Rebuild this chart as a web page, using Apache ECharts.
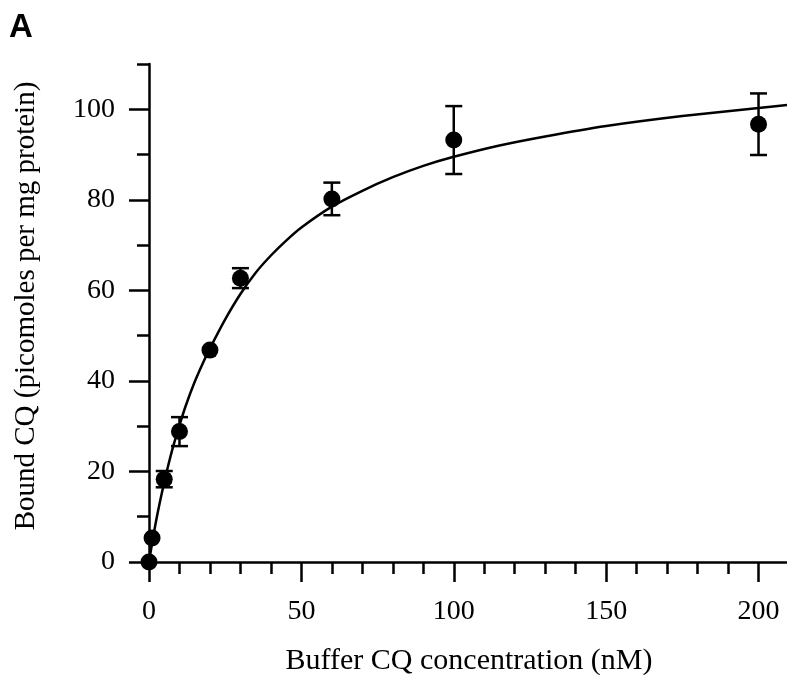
<!DOCTYPE html>
<html>
<head>
<meta charset="utf-8">
<script src="https://cdn.jsdelivr.net/npm/echarts@6/dist/echarts.min.js"></script>
<style>
html,body{margin:0;padding:0;background:#fff;}
#chart{width:787px;height:675px;}
</style>
</head>
<body>
<div id="chart"></div>
<script>
// Measured points (buffer CQ in nM, bound CQ in pmol/mg protein, error half-width)
const pointX = [0, 1, 5, 10, 20, 30, 60, 100, 200];
const pointY = [0, 5.3, 18.3, 28.8, 46.8, 62.7, 80.2, 93.2, 96.7];
const pointErr = [0, 0, 1.8, 3.2, 0, 2.2, 3.6, 7.5, 6.8];

// Fitted curve
const curveX = [0, 1, 2, 3, 4, 5, 6, 8, 10, 12, 15, 18, 20, 25, 30, 35, 40, 45, 50, 60, 70, 80, 90, 100, 115, 130, 150, 175, 200, 210];
const curveY = [0, 4.1, 7.9, 11.4, 14.6, 17.6, 20.5, 25.7, 30.2, 34.4, 39.8, 44.4, 47.2, 53.6, 59.2, 63.9, 67.7, 71, 73.9, 78.5, 82, 85, 87.5, 89.5, 92, 94, 96.3, 98.5, 100.3, 101];

// Tick labels
const xMajorTicks = [0, 50, 100, 150, 200];
const yMajorTicks = [0, 20, 40, 60, 80, 100];

const xTitle = 'Buffer CQ concentration (nM)';
const yTitle = 'Bound CQ (picomoles per mg protein)';
const panelLabel = 'A';

const serif = 'Liberation Serif';
const chart = echarts.init(document.getElementById('chart'));

const points = pointX.map((x, i) => [x, pointY[i]]);
const errData = pointX.map((x, i) => [x, pointY[i], pointErr[i]]);
const curve = curveX.map((x, i) => [x, curveY[i]]);

const LW = 2.5;

const option = {
  backgroundColor: '#fff',
  animation: false,
  title: {
    text: panelLabel, left: 9, top: 11, padding: 0,
    textStyle: { fontFamily: 'Liberation Sans', fontWeight: 'bold', fontSize: 33, color: '#000' }
  },
  grid: { left: 149, top: 64, width: 640, height: 498, containLabel: false, outerBoundsMode: 'none' },
  xAxis: [
    {
      type: 'value', min: 0, max: 210, position: 'bottom',
      name: xTitle, nameLocation: 'middle', nameGap: 84,
      nameTextStyle: { fontFamily: serif, fontSize: 30, color: '#000' },
      axisLine: { show: true, onZero: false, lineStyle: { color: '#000', width: LW } },
      axisTick: { show: true, inside: false, length: 20, customValues: xMajorTicks, lineStyle: { color: '#000', width: LW } },
      axisLabel: { show: true, customValues: xMajorTicks, margin: 36, fontFamily: serif, fontSize: 28, color: '#000' },
      splitLine: { show: false }
    },
    {
      type: 'value', min: 0, max: 210, interval: 10, position: 'bottom',
      axisLine: { show: false, onZero: false },
      axisTick: { show: true, inside: false, length: 12, lineStyle: { color: '#000', width: LW } },
      axisLabel: { show: false },
      splitLine: { show: false }
    }
  ],
  yAxis: [
    {
      type: 'value', min: 0, max: 110, position: 'left',
      name: yTitle, nameLocation: 'middle', nameGap: 108, nameRotate: 90,
      nameTextStyle: { fontFamily: serif, fontSize: 29, color: '#000', padding: [0, 0, 0, 14] },
      axisLine: { show: true, onZero: false, lineStyle: { color: '#000', width: LW } },
      axisTick: { show: true, inside: false, length: 20, customValues: yMajorTicks, lineStyle: { color: '#000', width: LW } },
      axisLabel: { show: true, customValues: yMajorTicks, margin: 34, fontFamily: serif, fontSize: 28, color: '#000' },
      splitLine: { show: false }
    },
    {
      type: 'value', min: 0, max: 110, interval: 10, position: 'left',
      axisLine: { show: false, onZero: false },
      axisTick: { show: true, inside: false, length: 12, lineStyle: { color: '#000', width: LW } },
      axisLabel: { show: false },
      splitLine: { show: false }
    }
  ],
  series: [
    {
      type: 'line', xAxisIndex: 0, yAxisIndex: 0, data: curve,
      smooth: 0.2, showSymbol: false, symbol: 'none',
      lineStyle: { color: '#000', width: LW }, z: 2, clip: false
    },
    {
      type: 'custom', xAxisIndex: 0, yAxisIndex: 0, data: errData, z: 3, clip: false,
      renderItem: function (params, api) {
        const x = api.value(0), y = api.value(1), e = api.value(2);
        if (!(e > 0)) return null;
        const top = api.coord([x, y + e]);
        const bot = api.coord([x, y - e]);
        const hw = 8.5;
        const style = { stroke: '#000', lineWidth: LW };
        return {
          type: 'group',
          children: [
            { type: 'line', shape: { x1: top[0], y1: top[1], x2: bot[0], y2: bot[1] }, style: style },
            { type: 'line', shape: { x1: top[0] - hw, y1: top[1], x2: top[0] + hw, y2: top[1] }, style: style },
            { type: 'line', shape: { x1: bot[0] - hw, y1: bot[1], x2: bot[0] + hw, y2: bot[1] }, style: style }
          ]
        };
      }
    },
    {
      type: 'scatter', xAxisIndex: 0, yAxisIndex: 0, data: points,
      symbol: 'circle', symbolSize: 17, itemStyle: { color: '#000', opacity: 1 }, z: 4, clip: false
    }
  ]
};
chart.setOption(option);
</script>
</body>
</html>
